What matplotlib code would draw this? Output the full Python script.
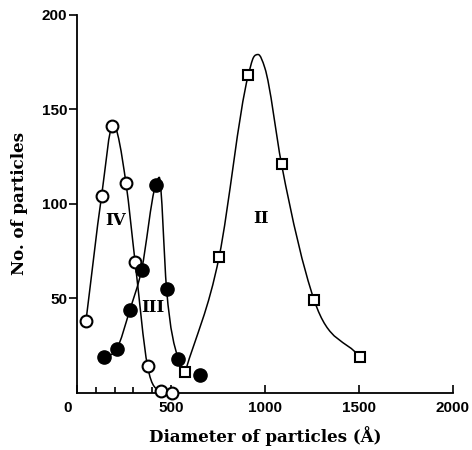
import matplotlib
matplotlib.use("Agg")
import matplotlib.pyplot as plt
import matplotlib.transforms as mtransforms
import numpy as np
from matplotlib.path import Path
from matplotlib.patches import PathPatch

# measured points (diameter in angstrom, number of particles)
iv_x = [48, 131, 188, 261, 310, 376, 447, 507]
iv_y = [38, 104, 141, 111, 69, 14, 1, 0]
iii_x = [145, 211, 282, 344, 419, 477, 539, 655]
iii_y = [19, 23, 44, 65, 110, 55, 18, 9.5]
ii_x = [576, 757, 912, 1089, 1263, 1506]
ii_y = [11, 72, 168, 121, 49, 19]

# hand drawn curves: knots (markers plus points on the line)
iv_curve_x = [48, 131, 192, 261, 310, 376, 447, 507]
iv_curve_y = [38, 104, 142, 111, 69, 14, 1, 0]
iii_curve_x = [145, 211, 282, 344, 419, 438, 477, 539, 576]
iii_curve_y = [19, 23, 44, 65, 110, 114, 55, 18, 11]
ii_curve_x = [576, 757, 912, 940, 965, 1000, 1089, 1263, 1506]
ii_curve_y = [11, 72, 168, 177.5, 179, 172, 121, 49, 19]

# curve names and where they sit
curve_names = ["IV", "III", "II"]
name_x = [204, 406, 979]
name_y = [91, 45, 92]

x_ticks = [0, 500, 1000, 1500, 2000]
x_minor = [100, 200, 300, 400]
y_ticks = [50, 100, 150, 200]


def smooth_path(xs, ys):
    # monotone cubic (Fritsch-Carlson slopes) handed to matplotlib as Beziers
    x = np.asarray(xs, float)
    y = np.asarray(ys, float)
    h = np.diff(x)
    d = np.diff(y) / h
    m = np.zeros_like(y)
    m[0], m[-1] = d[0], d[-1]
    for i in range(1, len(x) - 1):
        if d[i - 1] * d[i] <= 0:
            continue
        w = (h[i] * d[i - 1] + h[i - 1] * d[i]) / (h[i - 1] + h[i])
        lim = 3 * min(abs(d[i - 1]), abs(d[i]))
        m[i] = np.sign(w) * min(abs(w), lim)
    verts = [(x[0], y[0])]
    codes = [Path.MOVETO]
    for i in range(len(x) - 1):
        verts += [(x[i] + h[i] / 3, y[i] + m[i] * h[i] / 3),
                  (x[i + 1] - h[i] / 3, y[i + 1] - m[i + 1] * h[i] / 3),
                  (x[i + 1], y[i + 1])]
        codes += [Path.CURVE4] * 3
    return Path(verts, codes)


fig = plt.figure(figsize=(4.72, 4.5), dpi=100)
ax = fig.add_axes([0.163, 0.127, 0.796, 0.84])

for cx, cy in [(iv_curve_x, iv_curve_y), (iii_curve_x, iii_curve_y), (ii_curve_x, ii_curve_y)]:
    ax.add_patch(PathPatch(smooth_path(cx, cy), facecolor="none",
                           edgecolor="black", lw=1.1, zorder=2))

ax.plot(iv_x, iv_y, "o", ms=8.5, mfc="white", mec="black", mew=1.5,
        ls="none", zorder=3, clip_on=False)
ax.plot(iii_x, iii_y, "o", ms=9.5, mfc="black", mec="black",
        ls="none", zorder=3, clip_on=False)
ax.plot(ii_x, ii_y, "s", ms=7.5, mfc="white", mec="black", mew=1.5,
        ls="none", zorder=3, clip_on=False)

for name, nx, ny in zip(curve_names, name_x, name_y):
    ax.text(nx, ny, name, ha="center", va="center", fontsize=12,
            fontweight="bold", family="DejaVu Serif")

ax.set_xlim(0, 2000)
ax.set_ylim(0, 200)
ax.set_xticks(x_ticks)
ax.set_xticks(x_minor, minor=True)
ax.set_yticks(y_ticks)
ax.tick_params(axis="x", direction="in", length=6, width=1.2, pad=6)
ax.tick_params(axis="x", which="minor", direction="in", length=4, width=1.2)
ax.tick_params(axis="y", direction="out", length=6, width=1.2, pad=1)
for lab in ax.get_xticklabels() + ax.get_yticklabels():
    lab.set_family("Liberation Sans")
    lab.set_fontweight("bold")
    lab.set_fontsize(11)

# the "0" sits a little left of the corner in the original
shift = mtransforms.ScaledTranslation(-9 / 100, 0, fig.dpi_scale_trans)
zero = ax.get_xticklabels()[0]
zero.set_transform(zero.get_transform() + shift)

for s in ["top", "right"]:
    ax.spines[s].set_visible(False)
for s in ["left", "bottom"]:
    ax.spines[s].set_linewidth(1.3)

ax.set_xlabel("Diameter of particles (Å)", family="DejaVu Serif",
              fontweight="bold", fontsize=12, labelpad=8)
ax.set_ylabel("No. of particles", family="DejaVu Serif",
              fontweight="bold", fontsize=12, labelpad=10)

fig.savefig("out.png", dpi=100)
